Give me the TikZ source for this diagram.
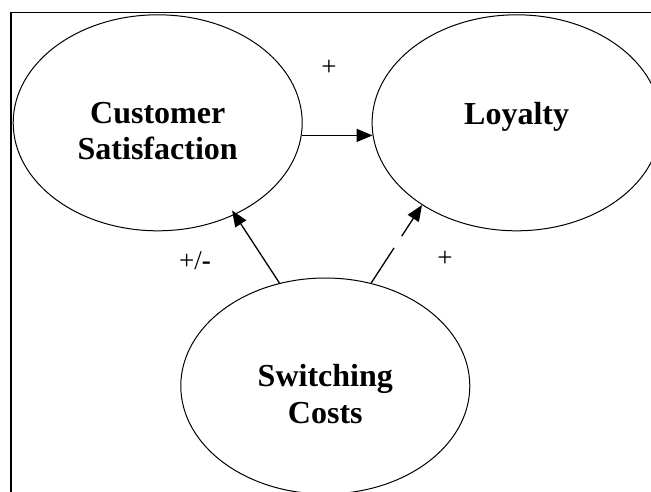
\documentclass[tikz,border=0pt]{standalone}
\usepackage{fontspec}
\setmainfont{Liberation Serif}
\usetikzlibrary{shapes.geometric,arrows.meta}
\begin{document}
\begin{tikzpicture}[x=1pt,y=-1pt]
\tikzstyle{construct}=[draw,ellipse,line width=1pt,minimum width=289pt,minimum height=216pt,inner sep=0pt];
\tikzstyle{title}=[align=center,font=\bfseries\fontsize{32}{36.6}\selectfont];
\tikzstyle{sign}=[font=\fontsize{27}{30}\selectfont];
\tikzstyle{link}=[-{Triangle[length=16pt,width=13pt]},line width=1.3pt];
\useasboundingbox (0,0) rectangle (651,491);
\draw[line width=1.5pt] (10.8,520) |- (680,12.6);
\node[construct] (sat) at (157.7,122.8) {};
\node[construct] (loy) at (516.6,122.8) {};
\node[construct] (sw) at (325.3,386) {};
\node[title] (satname) at (157.7,131) {Customer\\Satisfaction};
\node[title] (loyname) at (516.6,117) {Loyalty};
\node[title] (swname) at (325.3,394) {Switching\\Costs};
\node[sign] (p1) at (329,68) {+};
\node[sign] (p2) at (195,261) {+/\textbf{-}};
\node[sign] (p3) at (445,259) {+};
\draw[link] (sat.-5) -- (loy.185);
\draw[link,shorten >=-5pt] (sw.114) -- (sat.-50);
\draw[link,dash pattern=on 42pt off 14pt on 200pt] (sw.66) -- (loy.221);
\end{tikzpicture}
\end{document}
